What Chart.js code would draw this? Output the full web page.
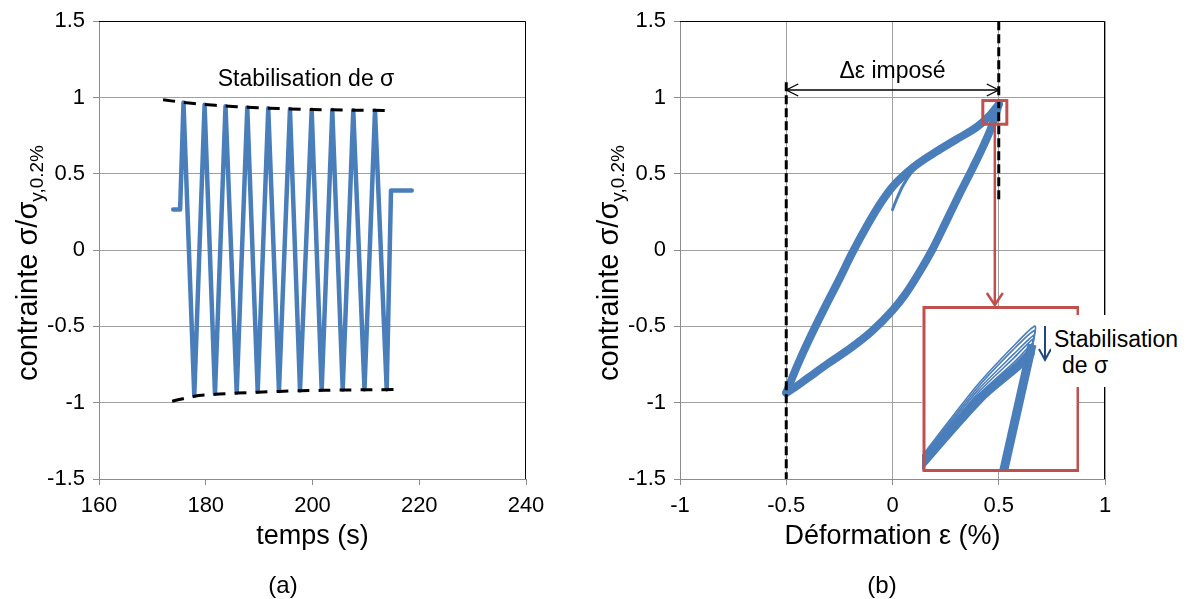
<!DOCTYPE html>
<html><head><meta charset="utf-8">
<script src="https://cdn.jsdelivr.net/npm/chart.js@4.4.1/dist/chart.umd.min.js"></script>
<style>
html,body{margin:0;padding:0;background:#fff;}
#wrap{position:relative;width:1192px;height:599px;overflow:hidden;background:#fff;font-family:"Liberation Sans",Arial,sans-serif;}
canvas{position:absolute;top:0;}
#cA{left:0;}
#cB{left:581px;}
#cI{left:922px;top:306px;background:#fff;}
#lbl{position:absolute;left:1051px;top:315px;width:139px;height:72px;background:#fff;color:#000;font-size:23px;line-height:26px;}
#lbl div{white-space:nowrap;}
</style></head><body>
<div id="wrap">
<canvas id="cA" width="581" height="599"></canvas>
<canvas id="cB" width="611" height="599"></canvas>
<canvas id="cI" width="157" height="166"></canvas>
<div id="lbl"><div style="padding:11px 0 0 3px">Stabilisation</div><div style="padding-left:11px">de σ</div></div>
</div>
<script>
// ---------------- data ----------------
const timeTicks    = [160, 180, 200, 220, 240];
const timeLabels   = ['160', '180', '200', '220', '240'];
const stressTicks  = [-1.5, -1, -0.5, 0, 0.5, 1, 1.5];
const stressLabels = ['-1.5', '-1', '-0.5', '0', '0.5', '1', '1.5'];
const strainTicks  = [-1, -0.5, 0, 0.5, 1];
const strainLabels = ['-1', '-0.5', '0', '0.5', '1'];

// (a) stress vs time
const cycleTime   = [173.9, 175.2, 175.83, 177.85, 179.78, 181.73, 183.70, 185.80, 187.78, 189.73, 191.71, 193.72, 195.78, 197.66, 199.85, 201.72, 203.71, 205.66, 207.64, 209.74, 211.71, 213.90, 214.71, 218.59];
const cycleStress = [0.266, 0.266, 0.967, -0.955, 0.952, -0.942, 0.942, -0.934, 0.935, -0.928, 0.929, -0.924, 0.924, -0.920, 0.920, -0.917, 0.918, -0.915, 0.916, -0.913, 0.914, -0.913, 0.391, 0.391];
const envUpperTime   = [172.0, 175.8, 179.8, 183.7, 187.8, 191.7, 195.8, 199.9, 203.7, 207.6, 214.0];
const envUpperStress = [0.985, 0.968, 0.954, 0.944, 0.936, 0.930, 0.925, 0.921, 0.919, 0.917, 0.915];
const envLowerTime   = [173.7, 177.85, 181.7, 185.8, 189.7, 193.7, 197.7, 201.7, 205.7, 209.7, 215.6];
const envLowerStress = [-0.990, -0.958, -0.945, -0.937, -0.931, -0.926, -0.922, -0.919, -0.917, -0.915, -0.914];

// (b) stress vs strain (hysteresis loop)
const loadStrain   = [-0.5, -0.47, -0.43, -0.38, -0.32, -0.25, -0.19, -0.12, -0.05, 0, 0.1, 0.2, 0.3, 0.4, 0.46, 0.5];
const loadStress   = [-0.935, -0.83, -0.70, -0.55, -0.38, -0.19, -0.02, 0.16, 0.32, 0.415, 0.545, 0.64, 0.725, 0.81, 0.885, 0.955];
const unloadStrain = [-0.5, -0.46, -0.4, -0.3, -0.2, -0.1, 0, 0.06, 0.12, 0.19, 0.25, 0.32, 0.38, 0.43, 0.47, 0.5];
const unloadStress = [-0.935, -0.90, -0.84, -0.74, -0.645, -0.535, -0.395, -0.29, -0.16, 0.01, 0.18, 0.38, 0.545, 0.69, 0.82, 0.955];
const firstStrain  = [0, 0.02, 0.05, 0.09, 0.13, 0.18];
const firstStress  = [0.265, 0.335, 0.425, 0.51, 0.565, 0.615];
const limitLeftStrain  = [-0.5, -0.5];
const limitLeftStress  = [1.10, -1.5];
const limitRightStrain = [0.5, 0.5];
const limitRightStress = [1.5, 0.33];

// zoomed inset (corner of the loop)
const insetStrainRange = [0.425, 0.538];
const insetStressRange = [0.825, 0.98];
const insetThinStrain = [
  [0.415, 0.4641, 0.4907, 0.5063, 0.5048],
  [0.415, 0.4645, 0.4905, 0.5058, 0.5046],
  [0.415, 0.4650, 0.4910, 0.5053, 0.5044],
  [0.415, 0.4655, 0.4915, 0.5048, 0.5042],
  [0.415, 0.4660, 0.4925, 0.5044, 0.5040]
];
const insetThinStress = [
  [0.823, 0.905, 0.9424, 0.9612, 0.944],
  [0.822, 0.903, 0.939, 0.957, 0.944],
  [0.821, 0.901, 0.935, 0.9525, 0.943],
  [0.820, 0.899, 0.932, 0.949, 0.942],
  [0.819, 0.897, 0.929, 0.945, 0.941]
];
const insetBandStrain  = [0.415, 0.467, 0.494, 0.503];
const insetBandStress  = [0.818, 0.894, 0.924, 0.936];
const insetSteepStrain = [0.5042, 0.481];
const insetSteepStress = [0.944, 0.81];

// ---------------- styling ----------------
const FONT = "'Liberation Sans', Arial, sans-serif";
Chart.defaults.font.family = FONT;
Chart.defaults.color = '#000';
const GRID = '#A0A0A0', AXIS = '#8C8C8C', BLUE = '#4A7EBB', RED = '#C0504D', NAVY = '#1F497D';

function pts(xs, ys) { return xs.map((x, i) => ({x: x, y: ys[i]})); }

function arrowHead(ctx, x, y, dx, dy, len, half) {
  const px = -dy, py = dx;
  ctx.beginPath();
  ctx.moveTo(x - dx * len + px * half, y - dy * len + py * half);
  ctx.lineTo(x, y);
  ctx.lineTo(x - dx * len - px * half, y - dy * len - py * half);
  ctx.stroke();
}

const framePlugin = {
  id: 'frame',
  beforeDatasetsDraw(chart) {
    const {ctx, chartArea: a} = chart;
    ctx.save();
    ctx.strokeStyle = '#000'; ctx.lineWidth = 1;
    const t = Math.round(a.top) + 0.5, r = Math.round(a.right) - 0.5;
    ctx.beginPath();
    ctx.moveTo(a.left, t); ctx.lineTo(r, t); ctx.lineTo(r, a.bottom);
    ctx.stroke();
    ctx.restore();
  }
};

const decorPlugin = {
  id: 'decor',
  afterDraw(chart, args, o) {
    const ctx = chart.ctx;
    ctx.save();
    ctx.fillStyle = '#000';
    ctx.translate(o.yTitleX, o.yTitleY);
    ctx.rotate(-Math.PI / 2);
    ctx.textBaseline = 'alphabetic'; ctx.textAlign = 'left';
    const mainF = '29px ' + FONT, subF = '19px ' + FONT;
    ctx.font = mainF; const w1 = ctx.measureText(o.yMain).width;
    ctx.font = subF; const w2 = ctx.measureText(o.ySub).width;
    const x0 = -(w1 + w2) / 2;
    ctx.font = mainF; ctx.fillText(o.yMain, x0, 0);
    ctx.font = subF; ctx.fillText(o.ySub, x0 + w1, 6);
    ctx.restore();
    ctx.save();
    ctx.fillStyle = '#000';
    ctx.font = '24px ' + FONT; ctx.textAlign = 'center'; ctx.textBaseline = 'middle';
    ctx.fillText(o.caption, o.capX, o.capY);
    ctx.restore();
  }
};

const notesA = {
  id: 'notesA',
  afterDatasetsDraw(chart) {
    const ctx = chart.ctx;
    ctx.save();
    ctx.fillStyle = '#000'; ctx.font = '23px ' + FONT;
    ctx.textAlign = 'center'; ctx.textBaseline = 'alphabetic';
    ctx.fillText('Stabilisation de σ', 306, 86);
    ctx.restore();
  }
};

const notesB = {
  id: 'notesB',
  afterDatasetsDraw(chart) {
    const ctx = chart.ctx, xs = chart.scales.x, ys = chart.scales.y;
    ctx.save();
    const xl = xs.getPixelForValue(-0.5), xr = xs.getPixelForValue(0.5), ya = 90;
    ctx.strokeStyle = '#000'; ctx.lineWidth = 1.3;
    ctx.beginPath(); ctx.moveTo(xl, ya); ctx.lineTo(xr, ya); ctx.stroke();
    arrowHead(ctx, xl, ya, -1, 0, 12, 6);
    arrowHead(ctx, xr, ya, 1, 0, 12, 6);
    ctx.fillStyle = '#000'; ctx.font = '23px ' + FONT;
    ctx.textAlign = 'center'; ctx.textBaseline = 'alphabetic';
    ctx.fillText('Δε imposé', xs.getPixelForValue(0), 78);
    const sx0 = xs.getPixelForValue(insetStrainRange[0]), sx1 = xs.getPixelForValue(insetStrainRange[1]);
    const sy0 = ys.getPixelForValue(insetStressRange[1]), sy1 = ys.getPixelForValue(insetStressRange[0]);
    ctx.strokeStyle = RED; ctx.lineWidth = 3;
    ctx.strokeRect(sx0, sy0, sx1 - sx0, sy1 - sy0);
    const ax = (sx0 + sx1) / 2;
    ctx.lineWidth = 2.5;
    ctx.beginPath(); ctx.moveTo(ax, sy1); ctx.lineTo(ax, 305); ctx.stroke();
    arrowHead(ctx, ax, 305, 0, 1, 12, 8);
    ctx.restore();
  }
};

const insetFrame = {
  id: 'insetFrame',
  afterDraw(chart) {
    const ctx = chart.ctx;
    ctx.save();
    ctx.strokeStyle = RED; ctx.lineWidth = 3;
    ctx.strokeRect(2, 1.5, 154, 163);
    ctx.strokeStyle = NAVY; ctx.lineWidth = 2;
    ctx.beginPath(); ctx.moveTo(123, 20); ctx.lineTo(123, 54); ctx.stroke();
    arrowHead(ctx, 123, 54, 0, 1, 11, 6);
    ctx.restore();
  }
};

function lineDs(data, color, width, extra) {
  return Object.assign({data: data, borderColor: color, backgroundColor: color, borderWidth: width,
    pointRadius: 0, showLine: true, fill: false, tension: 0,
    borderJoinStyle: 'round', borderCapStyle: 'round'}, extra || {});
}

function axisOpts(min, max, ticks, labels, showGrid, isX, titleText) {
  const o = {
    type: 'linear', min: min, max: max,
    afterBuildTicks: (s) => { s.ticks = ticks.map(v => ({value: v})); },
    ticks: { font: {size: 22, family: FONT}, color: '#000', padding: 8,
             callback: (v, i) => labels[i] },
    grid: { color: GRID, tickColor: AXIS, tickLength: 6, drawOnChartArea: showGrid, lineWidth: 1 },
    border: { display: true, color: AXIS, width: 1 }
  };
  if (isX) {
    o.afterFit = (s) => { s.height = 120; };
    o.title = { display: true, text: titleText, font: {size: 27, family: FONT}, color: '#000',
                padding: {top: 0, bottom: 46} };
  } else {
    o.afterFit = (s) => { s.width = 99; };
  }
  return o;
}

const common = {
  responsive: false, animation: false, maintainAspectRatio: false,
  events: [],
  plugins: { legend: {display: false}, tooltip: {enabled: false} }
};

// ---------------- chart (a) ----------------
new Chart(document.getElementById('cA'), {
  type: 'scatter',
  data: { datasets: [
    lineDs(pts(envUpperTime, envUpperStress), '#000', 3, {borderDash: [12, 9], tension: 0.3, borderCapStyle: 'butt'}),
    lineDs(pts(envLowerTime, envLowerStress), '#000', 3, {borderDash: [12, 9], tension: 0.3, borderCapStyle: 'butt'}),
    lineDs(pts(cycleTime, cycleStress), BLUE, 4.5)
  ]},
  options: Object.assign({}, common, {
    layout: { padding: {top: 18, right: 55, bottom: 0, left: 0} },
    scales: {
      x: axisOpts(160, 240, timeTicks, timeLabels, false, true, 'temps (s)'),
      y: axisOpts(-1.5, 1.5, stressTicks, stressLabels, true, false)
    },
    plugins: Object.assign({}, common.plugins, {
      decor: { yTitleX: 37, yTitleY: 263, yMain: 'contrainte σ/σ', ySub: 'y,0.2%', caption: '(a)', capX: 283, capY: 586 }
    })
  }),
  plugins: [framePlugin, decorPlugin, notesA]
});

// ---------------- chart (b) ----------------
new Chart(document.getElementById('cB'), {
  type: 'scatter',
  data: { datasets: [
    lineDs(pts(limitLeftStrain, limitLeftStress), '#000', 3, {borderDash: [9, 4], borderCapStyle: 'butt'}),
    lineDs(pts(limitRightStrain, limitRightStress), '#000', 3, {borderDash: [9, 4], borderCapStyle: 'butt'}),
    lineDs(pts(firstStrain, firstStress), BLUE, 3, {cubicInterpolationMode: 'monotone'}),
    lineDs(pts(loadStrain, loadStress), BLUE, 8, {cubicInterpolationMode: 'monotone'}),
    lineDs(pts(unloadStrain, unloadStress), BLUE, 8, {cubicInterpolationMode: 'monotone'})
  ]},
  options: Object.assign({}, common, {
    layout: { padding: {top: 18, right: 87, bottom: 0, left: 0} },
    scales: {
      x: axisOpts(-1, 1, strainTicks, strainLabels, true, true, 'Déformation ε (%)'),
      y: axisOpts(-1.5, 1.5, stressTicks, stressLabels, true, false)
    },
    plugins: Object.assign({}, common.plugins, {
      decor: { yTitleX: 37, yTitleY: 263, yMain: 'contrainte σ/σ', ySub: 'y,0.2%', caption: '(b)', capX: 301, capY: 586 }
    })
  }),
  plugins: [framePlugin, decorPlugin, notesB]
});

// ---------------- inset ----------------
const insetSets = [];
insetSets.push(lineDs(pts(insetSteepStrain, insetSteepStress), BLUE, 9, {borderCapStyle: 'butt'}));
insetSets.push(lineDs(pts(insetBandStrain, insetBandStress), BLUE, 9, {tension: 0.3}));
for (let i = 0; i < insetThinStrain.length; i++) {
  insetSets.push(lineDs(pts(insetThinStrain[i], insetThinStress[i]), BLUE, 1.6, {tension: 0.25}));
}
new Chart(document.getElementById('cI'), {
  type: 'scatter',
  data: { datasets: insetSets },
  options: Object.assign({}, common, {
    layout: { padding: 0 },
    scales: {
      x: { display: false, type: 'linear', min: insetStrainRange[0], max: insetStrainRange[1] },
      y: { display: false, type: 'linear', min: insetStressRange[0], max: insetStressRange[1] }
    }
  }),
  plugins: [insetFrame]
});
</script>
</body></html>
